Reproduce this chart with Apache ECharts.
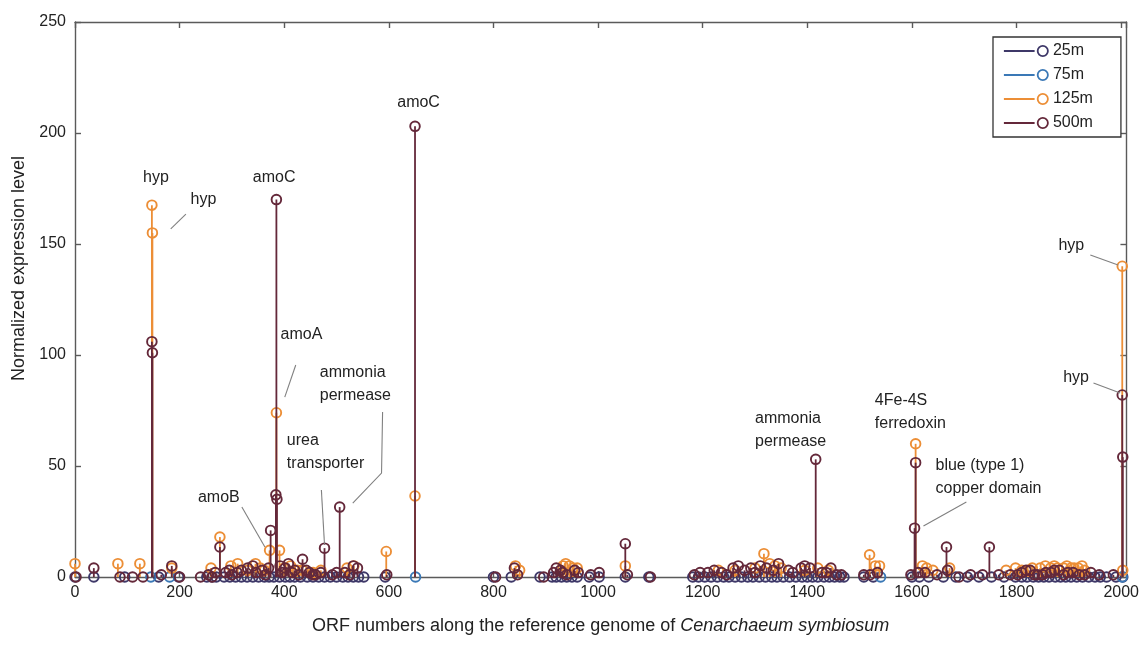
<!DOCTYPE html>
<html><head><meta charset="utf-8">
<script src="https://cdn.jsdelivr.net/npm/echarts@6/dist/echarts.min.js"></script>
<style>html,body{margin:0;padding:0;background:#fff}#c{width:1142px;height:652px}</style>
</head><body><div id="c"></div>
<script>
// ---- data ----
const seriesNames = ['25m', '75m', '125m', '500m'];
const xTickLabels = [0, 200, 400, 600, 800, 1000, 1200, 1400, 1600, 1800, 2000];
const yTickLabels = [0, 50, 100, 150, 200, 250];

const s25m = [[0,0],[36,0],[95,0],[160,0],[198,0],[252,0],[262,0],[270,0],[285,0],[296,0],[307,0],[318,0],[329,0],[340,0],[351,0],[362,0],[371,0],[380,0],[391,0],[402,0],[411,0],[420,0],[431,0],[444,0],[455,0],[466,0],[477,0],[488,0],[500,0],[512,0],[522,0],[532,0],[542,0],[552,0],[593,0],[800,0],[834,0],[889,0],[912,0],[920,0],[930,0],[940,0],[950,0],[960,0],[983,0],[1002,0],[1052,0],[1097,0],[1181,0],[1192,0],[1204,0],[1216,0],[1228,0],[1240,0],[1250,0],[1262,0],[1274,0],[1286,0],[1296,0],[1308,0],[1320,0],[1332,0],[1342,0],[1354,0],[1366,0],[1378,0],[1390,0],[1400,0],[1410,0],[1420,0],[1432,0],[1442,0],[1452,0],[1462,0],[1470,0],[1508,0],[1526,0],[1600,0],[1614,0],[1632,0],[1660,0],[1684,0],[1706,0],[1728,0],[1752,0],[1776,0],[1798,0],[1810,0],[1820,0],[1832,0],[1842,0],[1852,0],[1862,0],[1874,0],[1884,0],[1894,0],[1904,0],[1915,0],[1926,0],[1938,0],[1950,0],[1960,0],[1972,0],[1990,0],[2003,0]];

const s75m = [[145,0],[181,0],[651,0],[1540,0],[2002,0]];

const s125m = [[0,6],[82,6],[124,6],[147,167.5],[148,155],[185,4],[260,4],[277,18],[298,5],[311,6],[330,3],[345,6],[354,4],[362,3],[372,12],[385,74],[391,12],[400,4],[412,5],[425,3],[435,3],[455,2],[470,3],[520,4],[533,5],[595,11.5],[650,36.5],[842,5],[850,3],[933,5],[938,6],[945,5],[952,4],[960,4],[1052,5],[1230,3],[1262,3],[1300,4],[1317,10.5],[1328,6],[1338,5],[1350,4],[1395,3],[1420,4],[1440,3],[1519,10],[1530,5],[1538,5],[1607,60],[1620,5],[1628,4],[1640,3],[1672,4],[1780,3],[1798,4],[1810,3],[1822,3],[1830,4],[1845,4],[1855,5],[1865,4],[1872,5],[1878,4],[1890,4],[1896,5],[1904,4],[1910,4],[1918,4],[1925,5],[1930,3],[2002,140],[2003,3]];

const s500m = [[2,0],[36,4],[86,0],[110,0],[130,0],[147,106],[148,101],[165,1],[185,5],[200,0],[240,0],[255,1],[262,0],[268,2],[277,13.5],[288,2],[295,3],[300,1],[310,2],[318,3],[330,4],[340,5],[346,2],[358,3],[364,1],[370,4],[374,21],[384,37],[386,35],[385,170],[392,5],[396,2],[402,4],[408,6],[415,2],[420,3],[428,1],[435,8],[442,3],[448,2],[455,1],[460,1],[470,2],[477,13],[492,1],[500,2],[506,31.5],[516,2],[525,1],[532,5],[540,4],[596,1],[650,203],[804,0],[840,4],[846,1],[896,0],[915,2],[920,4],[928,3],[932,2],[940,1],[955,3],[962,2],[986,1],[1002,2],[1052,15],[1056,1],[1100,0],[1184,1],[1195,2],[1210,2],[1222,3],[1236,2],[1246,1],[1258,4],[1268,5],[1280,3],[1292,4],[1300,2],[1310,5],[1322,4],[1335,3],[1345,6],[1364,3],[1372,2],[1388,4],[1395,5],[1405,4],[1416,53],[1428,2],[1436,2],[1445,4],[1456,1],[1465,1],[1508,1],[1520,1],[1534,2],[1598,1],[1605,22],[1607,51.5],[1612,2],[1625,2],[1648,1],[1666,13.5],[1668,3],[1690,0],[1712,1],[1735,1],[1748,13.5],[1766,1],[1788,1],[1802,1],[1810,2],[1818,3],[1826,3],[1834,1],[1840,1],[1850,1],[1856,2],[1866,2],[1872,3],[1882,3],[1890,1],[1898,2],[1908,2],[1920,1],[1930,1],[1942,2],[1958,1],[1985,1],[2002,82],[2003,54]];

// annotations (text anchored at left edge / vertical middle, in data units)
const annoText = ['hyp','hyp','amoC','amoA','ammonia\npermease','urea\ntransporter','amoB','amoC','ammonia\npermease','4Fe-4S\nferredoxin','blue (type 1)\ncopper domain','hyp','hyp'];
const annoX = [130, 221, 340, 393, 468, 405, 235, 616, 1300, 1529, 1645, 1880, 1889];
const annoY = [179.7, 169.8, 179.7, 109, 86.9, 56.3, 35.6, 213.5, 66.2, 74.3, 45, 149.5, 90];
const leaderLines = [
  [[212,163.5],[183,156.8]],
  [[422,95.5],[401,81]],
  [[588,74.3],[586,46.8],[531,33.3]],
  [[471,39.2],[477,14.4]],
  [[319,31.5],[363,13.5]],
  [[1704,33.8],[1622,23]],
  [[1941,145],[1994,140.5]],
  [[1947,87.4],[1998,82.9]]
];

// ---- styles ----
const colors = {'25m':'#3e3868','75m':'#3a78b6','125m':'#ec8e36','500m':'#64283a'};
const FONT = '"Liberation Sans", Arial, sans-serif';

function stemSeries(name, data) {
  const col = colors[name];
  return {
    name, type: 'custom', data, clip: false, encode: {x: 0, y: 1},
    itemStyle: {color: col},
    renderItem: function (params, api) {
      const x = api.value(0), y = api.value(1);
      const top = api.coord([x, y]);
      const base = api.coord([x, 0]);
      return {type: 'group', children: [
        {type: 'line', shape: {x1: base[0], y1: base[1], x2: top[0], y2: top[1]}, style: {stroke: col, lineWidth: 1.8}},
        {type: 'circle', shape: {cx: top[0], cy: top[1], r: 4.8}, style: {fill: 'none', stroke: col, lineWidth: 1.9}}
      ]};
    }
  };
}

const legendIcon = 'path://M0,6L30,6M33,6A5,5,0,1,1,43,6A5,5,0,1,1,33,6';

const chart = echarts.init(document.getElementById('c'), null, {renderer: 'canvas'});
const axisLineStyle = {color: '#5a5a5a', width: 1.4};
const option = {
  animation: false,
  backgroundColor: '#fff',
  grid: {left: 75, right: 14, top: 22, bottom: 75},
  xAxis: [{
    type: 'value', min: 0, max: 2010, interval: 200, position: 'bottom',
    name: '{n|ORF numbers along the reference genome of }{i|Cenarchaeum symbiosum}',
    nameLocation: 'middle', nameGap: 40,
    nameTextStyle: {rich: {n: {fontSize: 18, fontFamily: FONT, color: '#222'}, i: {fontSize: 18, fontFamily: FONT, fontStyle: 'italic', color: '#222'}}},
    axisLine: {show: true, onZero: false, lineStyle: axisLineStyle},
    axisTick: {show: true, inside: true, length: 6, lineStyle: axisLineStyle},
    axisLabel: {fontSize: 16, fontFamily: FONT, color: '#222', margin: 8, showMaxLabel: false,
      formatter: v => xTickLabels.indexOf(v) >= 0 ? String(v) : ''},
    splitLine: {show: false}
  }, {
    type: 'value', min: 0, max: 2010, interval: 200, position: 'top',
    axisLine: {show: true, onZero: false, lineStyle: axisLineStyle},
    axisTick: {show: true, inside: true, length: 6, lineStyle: axisLineStyle},
    axisLabel: {show: false}, splitLine: {show: false}
  }],
  yAxis: [{
    type: 'value', min: 0, max: 250, interval: 50, position: 'left',
    name: 'Normalized expression level', nameLocation: 'middle', nameGap: 45,
    nameTextStyle: {fontSize: 18, fontFamily: FONT, color: '#222', padding: [0, 0, 0, 62]},
    axisLine: {show: true, onZero: false, lineStyle: axisLineStyle},
    axisTick: {show: true, inside: true, length: 6, lineStyle: axisLineStyle},
    axisLabel: {fontSize: 16, fontFamily: FONT, color: '#222', margin: 9,
      formatter: v => yTickLabels.indexOf(v) >= 0 ? String(v) : ''},
    splitLine: {show: false}
  }, {
    type: 'value', min: 0, max: 250, interval: 50, position: 'right',
    axisLine: {show: true, onZero: false, lineStyle: axisLineStyle},
    axisTick: {show: true, inside: true, length: 6, lineStyle: axisLineStyle},
    axisLabel: {show: false}, splitLine: {show: false}
  }],
  legend: {
    orient: 'vertical', left: 993, top: 37,
    padding: [6, 28, 6, 10], itemGap: 8, itemWidth: 44, itemHeight: 12,
    borderColor: '#333', borderWidth: 1.3, backgroundColor: '#fff',
    textStyle: {fontSize: 16, fontFamily: FONT, color: '#222'},
    data: seriesNames.map(n => ({name: n, icon: legendIcon,
      itemStyle: {color: 'rgba(0,0,0,0)', borderColor: colors[n], borderWidth: 1.8}}))
  },
  series: [
    stemSeries('25m', s25m),
    stemSeries('75m', s75m),
    stemSeries('125m', s125m),
    stemSeries('500m', s500m),
    {
      name: 'leaders', type: 'custom', silent: true, clip: false,
      data: leaderLines.map((l, i) => [l[0][0], l[0][1], i]),
      encode: {x: 0, y: 1},
      renderItem: function (params, api) {
        const pts = leaderLines[params.dataIndex].map(p => api.coord(p));
        return {type: 'polyline', shape: {points: pts}, style: {stroke: '#808080', lineWidth: 1.1, fill: 'none'}};
      }
    },
    {
      name: 'labels', type: 'custom', silent: true, clip: false,
      data: annoText.map((t, i) => [annoX[i], annoY[i], i]),
      encode: {x: 0, y: 1},
      renderItem: function (params, api) {
        const i = params.dataIndex;
        const p = api.coord([annoX[i], annoY[i]]);
        return {type: 'text', style: {text: annoText[i], x: p[0], y: p[1], align: 'left', verticalAlign: 'middle',
          font: '16px ' + FONT, fill: '#222', lineHeight: 23}};
      }
    }
  ]
};
chart.setOption(option);
</script>
</body></html>
